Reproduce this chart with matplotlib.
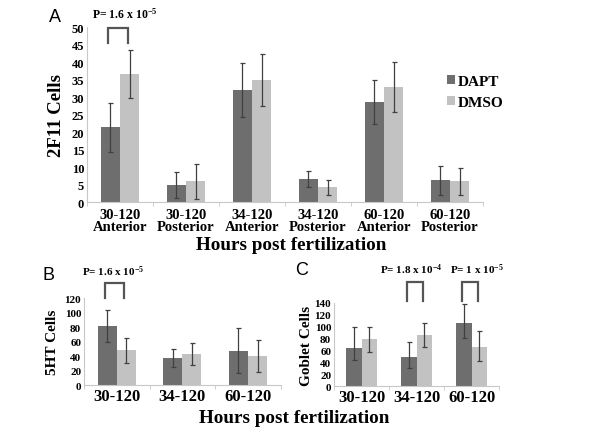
import matplotlib
matplotlib.use("Agg")
import matplotlib.pyplot as plt
import numpy as np

# ---------------- data ----------------
a_labels = ["30-120\nAnterior", "30-120\nPosterior", "34-120\nAnterior",
            "34-120\nPosterior", "60-120\nAnterior", "60-120\nPosterior"]
a_dapt = [21.3, 4.8, 32.0, 6.6, 28.6, 6.2]
a_dapt_err = [6.9, 3.7, 7.6, 2.3, 6.3, 4.2]
a_dmso = [36.5, 6.0, 34.8, 4.2, 32.8, 5.9]
a_dmso_err = [6.8, 5.0, 7.4, 2.2, 7.2, 3.9]

b_labels = ["30-120", "34-120", "60-120"]
b_dapt = [81, 37, 47]
b_dapt_err = [22, 12, 31]
b_dmso = [48, 43, 40]
b_dmso_err = [17, 15, 22]

c_labels = ["30-120", "34-120", "60-120"]
c_dapt = [64, 49, 106]
c_dapt_err_lo = [20, 19, 25]
c_dapt_err_hi = [36, 25, 32]
c_dmso = [79, 86, 66]
c_dmso_err_lo = [21, 20, 24]
c_dmso_err_hi = [21, 20, 26]

p_a = [(0, "P= 1.6 x 10$^{-5}$")]
p_b = [(0, "P= 1.6 x 10$^{-5}$")]
p_c = [(1, "P= 1.8 x 10$^{-4}$"), (2, "P= 1 x 10$^{-5}$")]

# ---------------- style ----------------
plt.rcParams['mathtext.fontset'] = 'custom'
plt.rcParams['mathtext.rm'] = 'Liberation Serif:bold'
plt.rcParams['mathtext.it'] = 'Liberation Serif:bold'
plt.rcParams['mathtext.bf'] = 'Liberation Serif:bold'
SERIF = 'Liberation Serif'
DARK = '#6e6e6e'
LIGHT = '#c2c2c2'
ERR = '#404040'
SPINE = '#c8c8c8'
BW = 0.29

fig = plt.figure(figsize=(6.0, 4.35), dpi=100)


def panel(rect, labels, dapt, dmso, dapt_err, dmso_err, ylim, yticks,
          ylabel, ylab_size, tick_size, xlab_size, ylabpad=4, xpad=2):
    ax = fig.add_axes(rect)
    n = len(labels)
    x = np.arange(n) + 0.5
    ekw = dict(ecolor=ERR, elinewidth=0.9, capsize=1.8, capthick=0.9)
    ax.bar(x - BW / 2, dapt, BW, color=DARK, yerr=dapt_err, error_kw=ekw,
           label='DAPT', zorder=2)
    ax.bar(x + BW / 2, dmso, BW, color=LIGHT, yerr=dmso_err, error_kw=ekw,
           label='DMSO', zorder=2)
    ax.set_xlim(0, n)
    ax.set_ylim(*ylim)
    ax.set_yticks(yticks)
    ax.set_xticks(x)
    ax.set_xticklabels(labels, fontfamily=SERIF, fontweight='bold',
                       fontsize=xlab_size, linespacing=0.95)
    ax.set_xticks(np.arange(n + 1), minor=True)
    ax.tick_params(axis='x', which='major', length=0, pad=xpad)
    ax.tick_params(axis='x', which='minor', length=3, color=SPINE, direction='out')
    ax.tick_params(axis='y', length=0, pad=2, labelsize=tick_size)
    for t in ax.get_yticklabels():
        t.set_fontfamily(SERIF)
        t.set_fontweight('bold')
    for s in ['top', 'right']:
        ax.spines[s].set_visible(False)
    for s in ['left', 'bottom']:
        ax.spines[s].set_color(SPINE)
        ax.spines[s].set_linewidth(0.8)
    ax.set_ylabel(ylabel, fontfamily=SERIF, fontweight='bold',
                  fontsize=ylab_size, labelpad=ylabpad)
    return ax, x


def bracket(ax, xc, y0, y1, text_y, text, text_x=None, fs=8.5):
    xl = xc - BW / 2 - 0.03
    xr = xc + BW / 2 - 0.03
    ax.plot([xl, xl, xr, xr], [y0, y1, y1, y0], color='#555555', lw=1.6,
            clip_on=False, solid_joinstyle='miter', zorder=3)
    ax.text(xc if text_x is None else text_x, text_y, text, ha='center',
            va='center', fontfamily=SERIF, fontweight='bold', fontsize=fs,
            clip_on=False)


# Panel A
axA, xA = panel([0.145, 0.5333, 0.66, 0.4023], a_labels, a_dapt, a_dmso,
                a_dapt_err, a_dmso_err, (0, 50), range(0, 51, 5),
                "2F11 Cells", 13.5, 9, 10.5, ylabpad=5, xpad=4)
for i, txt in p_a:
    bracket(axA, xA[i], 45.4, 49.7, 53.8, txt, text_x=xA[i] + 0.08)
axA.legend(loc='center left', bbox_to_anchor=(0.91, 0.63), frameon=False,
           handlelength=0.5, handleheight=0.5, handletextpad=0.15,
           labelspacing=0.5, borderaxespad=0, borderpad=0,
           prop=dict(family=SERIF, weight='bold', size=11))

# Panel B
axB, xB = panel([0.14, 0.1126, 0.328, 0.2], b_labels, b_dapt, b_dmso,
                b_dapt_err, b_dmso_err, (0, 120), range(0, 121, 20),
                "5HT Cells", 11, 8, 12)
for i, txt in p_b:
    bracket(axB, xB[i], 120, 140.5, 157, txt, text_x=xB[i] - 0.05, fs=8)

# Panel C
axC, xC = panel([0.5567, 0.1103, 0.275, 0.191], c_labels, c_dapt, c_dmso,
                [c_dapt_err_lo, c_dapt_err_hi], [c_dmso_err_lo, c_dmso_err_hi],
                (0, 140), range(0, 141, 20),
                "Goblet Cells", 11, 8, 12, ylabpad=1)
c_shift = [-0.1, 0.1]
for (i, txt), dx in zip(p_c, c_shift):
    bracket(axC, xC[i], 143, 175, 197, txt, text_x=xC[i] + dx, fs=8)

# shared labels and panel letters
fig.text(0.485, 0.435, "Hours post fertilization", ha='center', va='center',
         fontfamily=SERIF, fontweight='bold', fontsize=13.8)
fig.text(0.491, 0.039, "Hours post fertilization", ha='center', va='center',
         fontfamily=SERIF, fontweight='bold', fontsize=13.8)
for lx, ly, lt in [(0.092, 0.959, "A"), (0.08, 0.366, "B"), (0.503, 0.379, "C")]:
    fig.text(lx, ly, lt, ha='center', va='center', fontfamily='Liberation Sans',
             fontsize=13)

fig.savefig("out.png", dpi=100)
